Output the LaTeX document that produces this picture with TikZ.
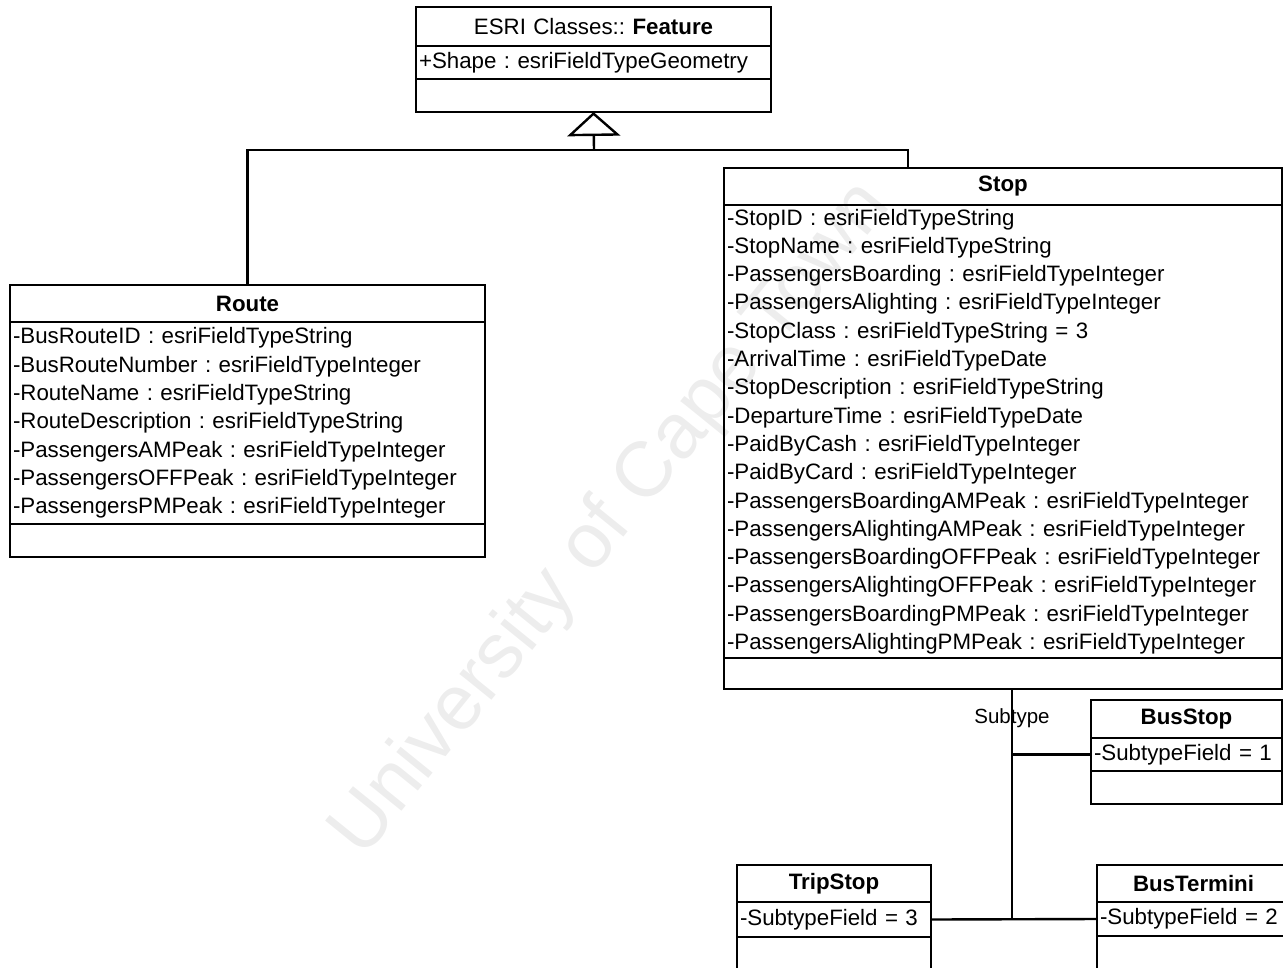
\documentclass[tikz,border=0pt]{standalone}
\usepackage{fontspec}
\setmainfont{Liberation Sans}
\usetikzlibrary{arrows.meta}
\frenchspacing
\tikzset{
  umlfont/.style={font=\fontsize{22.3}{28.3}\selectfont\frenchspacing},
  comp/.style={draw, line width=2.4pt, fill=white, anchor=north west, inner xsep=3pt, inner ysep=0pt, outer sep=0pt, umlfont},
  ctitle/.style={comp, align=center},
  cattr/.style={comp, align=left},
  cmeth/.style={comp},
  conn/.style={line width=2.4pt},
  gentip/.style={-{Triangle[open,length=24pt,width=53pt,line width=2.4pt]}},
  sublabel/.style={font=\fontsize{20.5}{24}\selectfont, inner sep=0pt},
  watermark/.style={rotate=51, opacity=0.07, font=\fontsize{78}{78}\selectfont}
}
\begin{document}
\begin{tikzpicture}[x=1pt,y=-1pt]
\useasboundingbox (0,0) rectangle (1283,967);
\clip (0,0) rectangle (1283,967);
\fill[white] (0,0) rectangle (1283,967);

% Feature
\node[ctitle, text width=349pt, minimum height=39pt] (feat) at (416,7) {ESRI Classes:: \textbf{Feature}};
\node[cattr, text width=349pt, minimum height=33pt] (featattr) at (feat.south west) {+Shape : esriFieldTypeGeometry};
\node[cmeth, minimum width=355pt, minimum height=33pt] (featmeth) at (featattr.south west) {};

% Route
\node[ctitle, text width=469pt, minimum height=37pt] (route) at (10,285) {\textbf{Route}};
\node[cattr, text width=469pt, minimum height=202pt] (routeattr) at (route.south west) {-BusRouteID : esriFieldTypeString\\
-BusRouteNumber : esriFieldTypeInteger\\
-RouteName : esriFieldTypeString\\
-RouteDescription : esriFieldTypeString\\
-PassengersAMPeak : esriFieldTypeInteger\\
-PassengersOFFPeak : esriFieldTypeInteger\\
-PassengersPMPeak : esriFieldTypeInteger};
\node[cmeth, minimum width=475pt, minimum height=33pt] (routemeth) at (routeattr.south west) {};

% Stop
\node[ctitle, text width=552pt, minimum height=37pt] (stop) at (724,168) {\textbf{Stop}};
\node[cattr, text width=552pt, minimum height=453pt] (stopattr) at (stop.south west) {-StopID : esriFieldTypeString\\
-StopName : esriFieldTypeString\\
-PassengersBoarding : esriFieldTypeInteger\\
-PassengersAlighting : esriFieldTypeInteger\\
-StopClass : esriFieldTypeString = 3\\
-ArrivalTime : esriFieldTypeDate\\
-StopDescription : esriFieldTypeString\\
-DepartureTime : esriFieldTypeDate\\
-PaidByCash : esriFieldTypeInteger\\
-PaidByCard : esriFieldTypeInteger\\
-PassengersBoardingAMPeak : esriFieldTypeInteger\\
-PassengersAlightingAMPeak : esriFieldTypeInteger\\
-PassengersBoardingOFFPeak : esriFieldTypeInteger\\
-PassengersAlightingOFFPeak : esriFieldTypeInteger\\
-PassengersBoardingPMPeak : esriFieldTypeInteger\\
-PassengersAlightingPMPeak : esriFieldTypeInteger};
\node[cmeth, minimum width=558pt, minimum height=31pt] (stopmeth) at (stopattr.south west) {};

% BusStop
\node[ctitle, text width=185pt, minimum height=38pt] (busstop) at (1091,700) {\textbf{BusStop}};
\node[cattr, text width=185pt, minimum height=33pt] (busattr) at (busstop.south west) {-SubtypeField = 1};
\node[cmeth, minimum width=191pt, minimum height=33pt] (busmeth) at (busattr.south west) {};

% TripStop
\node[ctitle, text width=188pt, minimum height=37pt] (trip) at (737,865) {\textbf{TripStop}};
\node[cattr, text width=188pt, minimum height=35pt] (tripattr) at (trip.south west) {-SubtypeField = 3};
\node[cmeth, minimum width=194pt, minimum height=60pt] (tripmeth) at (tripattr.south west) {};

% BusTermini
\node[ctitle, text width=187pt, minimum height=37pt] (term) at (1097,865) {\textbf{BusTermini}};
\node[cattr, text width=187pt, minimum height=34pt] (termattr) at (term.south west) {-SubtypeField = 2};
\node[cmeth, minimum width=193pt, minimum height=60pt] (termmeth) at (termattr.south west) {};

% Generalization
\coordinate (gj) at (594,150);
\coordinate (stopin) at (908,168);
\draw[conn] (route.north) |- (gj);
\draw[conn] (stopin) |- (gj);
\draw[conn, gentip] (gj) -- (featmeth.south);

% Subtypes
\coordinate (st) at (1012,689);
\draw[conn] (st) -- node[sublabel, pos=0.125] {Subtype} (st |- tripattr.east);
\draw[conn] (busattr.west) -- (busattr.west -| st);
\draw[conn] (tripattr.east) -- (termattr.west);

% Watermark
\node[watermark] (wm) at (612,520) {University of Cape Town};
\end{tikzpicture}
\end{document}
